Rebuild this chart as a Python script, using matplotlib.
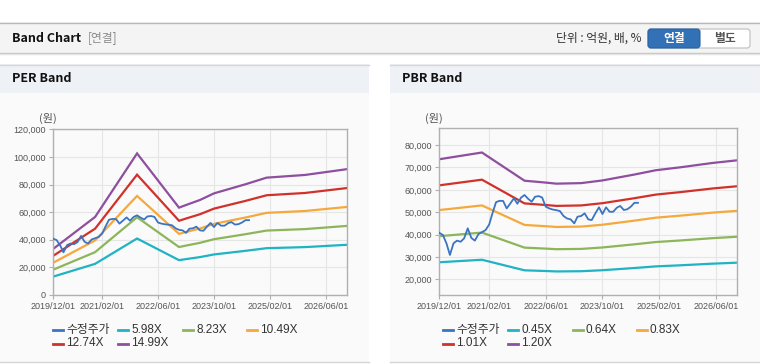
import pandas as pd
import matplotlib
matplotlib.use('Agg')
import matplotlib.pyplot as plt
import matplotlib.dates as mdates
from matplotlib.patches import Rectangle, FancyBboxPatch
from matplotlib.lines import Line2D
from matplotlib.ticker import FuncFormatter

plt.rcParams['font.family'] = ['Liberation Sans', 'Noto Sans CJK KR', 'DejaVu Sans']
KR = ['Noto Sans CJK KR', 'DejaVu Sans']

# adjusted stock price, monthly from 2019/12
price = [40800, 39800, 36000, 30900, 36100, 37300, 36800, 38300, 42800, 38500,
         37300, 40200, 41100, 42000, 44500, 49500, 54500, 55100, 55000, 51700,
         53900, 56200, 53800, 56500, 57700, 56000, 54700, 56900, 57200, 56600,
         52500, 51700, 51200, 50900, 50500, 48300, 47200, 46800, 45000, 48000,
         48300, 49500, 46800, 46500, 49500, 52200, 49200, 52200, 50200, 50200,
         52000, 52800, 51000, 51300, 52500, 54200, 54200]
price_start = '2019-12-01'

# PER band: EPS knots and multiples
per_dates = ['2019-12-01', '2020-12-01', '2021-12-01', '2022-12-01', '2023-02-01',
             '2023-06-01', '2023-10-01', '2024-07-01', '2025-01-01', '2025-12-01',
             '2026-12-01']
per_eps = [2220, 3770, 6840, 4220, 4350, 4590, 4910, 5350, 5670, 5800, 6080]
per_mult = [5.98, 8.23, 10.49, 12.74, 14.99]

# PBR band: BPS knots and multiples
pbr_dates = ['2019-12-01', '2020-12-01', '2021-12-01', '2022-06-01', '2022-09-01',
             '2023-04-01', '2023-10-01', '2024-07-01', '2025-01-01', '2025-08-01',
             '2026-05-01', '2026-12-01']
pbr_bps = [61400, 63900, 53400, 52700, 52300, 52500, 53500, 55700, 57300, 58400,
           60000, 61000]
pbr_mult = [0.45, 0.64, 0.83, 1.01, 1.20]

band_colors = ['#1fb3c4', '#8db55a', '#f5a93c', '#d1312b', '#8e4f9e']
price_color = '#3a74c2'
xticks = ['2019-12-01', '2021-02-01', '2022-06-01', '2023-10-01', '2025-02-01', '2026-06-01']

W, H = 760, 364
fig = plt.figure(figsize=(W / 100, H / 100), dpi=100)


def fx(x):
    return x / W


def fy(y):
    return 1 - y / H


def rect(x0, y0, x1, y1, fc, ec='none', lw=0, z=-5):
    fig.patches.append(Rectangle((fx(x0), fy(y1)), fx(x1 - x0), (y1 - y0) / H,
                                 transform=fig.transFigure, facecolor=fc,
                                 edgecolor=ec, linewidth=lw, zorder=z))


def hline(x0, x1, y, color, lw=1):
    fig.add_artist(Line2D([fx(x0), fx(x1)], [fy(y), fy(y)], color=color, lw=lw,
                          transform=fig.transFigure, zorder=-4))


# top header bar
rect(0, 22, 760, 53, '#f4f4f4')
hline(0, 760, 22.5, '#b8b8b8')
hline(0, 760, 53, '#c4c4c4')
hline(0, 760, 54, '#e4e4e4')
fig.text(fx(12), fy(38), 'Band Chart', family=KR, fontsize=9, fontweight='bold',
         color='#111111', va='center')
fig.text(fx(88), fy(38), '[연결]', family=KR, fontsize=8.5, color='#8a8a8a', va='center')
fig.text(fx(641), fy(38), '단위 : 억원, 배, %', family=KR, fontsize=8.5, color='#333333',
         va='center', ha='right')
# buttons (pixel coordinates, origin bottom-left)
fig.patches.append(FancyBboxPatch((648, H - 48), 102, 19, boxstyle='round,pad=0,rounding_size=3',
                                  transform=None, facecolor='#ffffff', edgecolor='#bdbdbd',
                                  lw=0.8, zorder=-3))
fig.patches.append(FancyBboxPatch((648, H - 48), 52, 19, boxstyle='round,pad=0,rounding_size=3',
                                  transform=None, facecolor='#3371b6', edgecolor='#2a62a3',
                                  lw=0.8, zorder=-2))
fig.text(fx(674), fy(38.5), '연결', family=KR, fontsize=8.5, fontweight='bold',
         color='white', ha='center', va='center')
fig.text(fx(725), fy(38.5), '별도', family=KR, fontsize=8.5, fontweight='bold',
         color='#555555', ha='center', va='center')

# panels
for x0, x1, title in [(0, 369, 'PER Band'), (390, 760, 'PBR Band')]:
    rect(x0, 64, x1, 362, '#fafafa')
    rect(x0, 64, x1, 93, '#eef1f6')
    hline(x0, x1, 64.5, '#d6d6d6')
    hline(x0, x1, 362, '#d6d6d6')
    fig.text(fx(x0 + 12), fy(79), title, family=KR, fontsize=9, fontweight='bold',
             color='#111111', va='center')

price_x = pd.date_range(price_start, periods=len(price), freq='MS')


def draw(box, dates, base, mults, ylim, yticks, unit_x, legend_x):
    ax = fig.add_axes(box)
    ax.set_facecolor('#fafafa')
    d = pd.to_datetime(dates)
    for m, c in zip(mults, band_colors):
        ax.plot(d, [b * m for b in base], color=c, lw=1.6, label='{:.2f}X'.format(m),
                solid_joinstyle='miter')
    ax.plot(price_x, price, color=price_color, lw=1.3, label='수정주가', zorder=5)
    ax.set_xlim(pd.Timestamp('2019-12-01'), pd.Timestamp('2026-12-01'))
    ax.set_ylim(*ylim)
    ax.set_yticks(yticks)
    ax.yaxis.set_major_formatter(FuncFormatter(lambda v, p: '{:,.0f}'.format(v)))
    ax.set_xticks(pd.to_datetime(xticks))
    ax.xaxis.set_major_formatter(mdates.DateFormatter('%Y/%m/%d'))
    ax.grid(True, color='#e6e6e6', lw=0.8)
    ax.set_axisbelow(True)
    for s in ax.spines.values():
        s.set_color('#b0b0b0')
        s.set_linewidth(1)
    ax.tick_params(axis='both', colors='#b0b0b0', labelcolor='#555555', labelsize=6.5,
                   length=3, width=0.8, pad=2)
    fig.text(fx(unit_x), fy(118), '(원)', family=KR, fontsize=8, color='#555555',
             ha='center', va='center')
    # legend, row by row like the original
    lines = ax.get_lines()
    order = [lines[-1]] + list(lines[:-1])
    for i, ln in enumerate(order):
        col, row = i % 4, i // 4
        x = legend_x[col]
        y = 330 + row * 13.5
        fig.add_artist(Line2D([fx(x), fx(x + 10)], [fy(y), fy(y)], color=ln.get_color(),
                              lw=2, transform=fig.transFigure))
        fig.text(fx(x + 13), fy(y), ln.get_label(), fontsize=8.5, color='#333333',
                 va='center', family=['Liberation Sans', 'Noto Sans CJK KR'])
    return ax


draw([fx(53), fy(295), fx(347 - 53), (295 - 129.3) / H], per_dates, per_eps, per_mult,
     (0, 120000), range(0, 120001, 20000), 48, [53, 118, 183, 247])
draw([fx(439.3), fy(295), fx(737.3 - 439.3), (295 - 128.3) / H], pbr_dates, pbr_bps,
     pbr_mult, (13000, 87500), range(20000, 80001, 10000), 434, [443, 508, 573, 637])

fig.savefig('out.png', dpi=100)
